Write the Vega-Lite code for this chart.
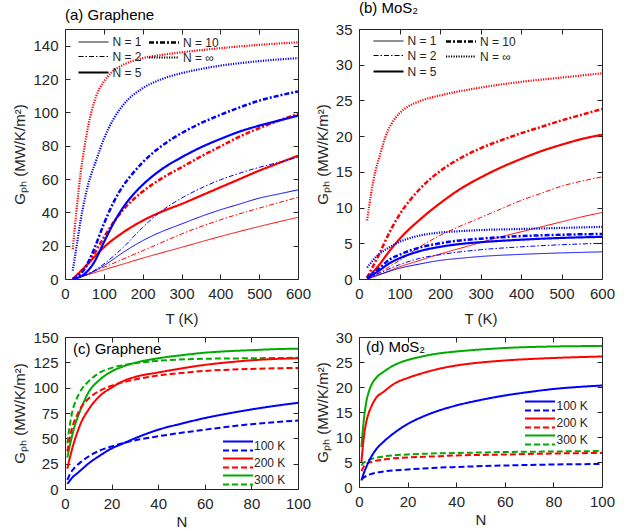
{
  "$schema": "https://vega.github.io/schema/vega-lite/v6.json",
  "background": "white",
  "padding": {"left": 12, "top": 0, "right": 5, "bottom": 0},
  "config": {
    "font": "Liberation Sans",
    "view": {"stroke": "#262626", "strokeWidth": 1},
    "axis": {"domain": false, "grid": false, "tickSize": -5, "tickColor": "#262626", "labelColor": "#262626", "labelFontSize": 15, "labelFont": "Liberation Sans", "titleFont": "Liberation Sans", "titleFontSize": 15, "titleFontWeight": "normal", "titleColor": "#262626", "labelPadding": 12, "labelFlush": false, "titlePadding": 6},
    "title": {"font": "Liberation Sans", "fontSize": 15, "fontWeight": "normal", "anchor": "start", "color": "#000000", "frame": "group"},
    "legend": {"labelFont": "Liberation Sans", "labelColor": "#262626"}
  },
  "datasets": {
    "a": [
      {"T":20,"G":0,"N":"N = 1","c":"red"},{"T":50,"G":2,"N":"N = 1","c":"red"},{"T":100,"G":5.5,"N":"N = 1","c":"red"},{"T":150,"G":9,"N":"N = 1","c":"red"},{"T":200,"G":12.5,"N":"N = 1","c":"red"},{"T":300,"G":19,"N":"N = 1","c":"red"},{"T":400,"G":25.5,"N":"N = 1","c":"red"},{"T":500,"G":31.5,"N":"N = 1","c":"red"},{"T":600,"G":37,"N":"N = 1","c":"red"},
      {"T":20,"G":0,"N":"N = 2","c":"red"},{"T":50,"G":2.5,"N":"N = 2","c":"red"},{"T":100,"G":7,"N":"N = 2","c":"red"},{"T":150,"G":12,"N":"N = 2","c":"red"},{"T":200,"G":17,"N":"N = 2","c":"red"},{"T":250,"G":22,"N":"N = 2","c":"red"},{"T":300,"G":27,"N":"N = 2","c":"red"},{"T":400,"G":35.5,"N":"N = 2","c":"red"},{"T":500,"G":42.5,"N":"N = 2","c":"red"},{"T":600,"G":49,"N":"N = 2","c":"red"},
      {"T":20,"G":0,"N":"N = 5","c":"red"},{"T":50,"G":7,"N":"N = 5","c":"red"},{"T":75,"G":13,"N":"N = 5","c":"red"},{"T":100,"G":19,"N":"N = 5","c":"red"},{"T":150,"G":28,"N":"N = 5","c":"red"},{"T":200,"G":35,"N":"N = 5","c":"red"},{"T":250,"G":40.5,"N":"N = 5","c":"red"},{"T":300,"G":45,"N":"N = 5","c":"red"},{"T":350,"G":50,"N":"N = 5","c":"red"},{"T":400,"G":55,"N":"N = 5","c":"red"},{"T":450,"G":60,"N":"N = 5","c":"red"},{"T":500,"G":65,"N":"N = 5","c":"red"},{"T":550,"G":69.5,"N":"N = 5","c":"red"},{"T":600,"G":74,"N":"N = 5","c":"red"},
      {"T":20,"G":0,"N":"N = 10","c":"red"},{"T":50,"G":6,"N":"N = 10","c":"red"},{"T":75,"G":15,"N":"N = 10","c":"red"},{"T":100,"G":25,"N":"N = 10","c":"red"},{"T":125,"G":34,"N":"N = 10","c":"red"},{"T":150,"G":41.5,"N":"N = 10","c":"red"},{"T":175,"G":47.5,"N":"N = 10","c":"red"},{"T":200,"G":52.5,"N":"N = 10","c":"red"},{"T":250,"G":60.5,"N":"N = 10","c":"red"},{"T":300,"G":67,"N":"N = 10","c":"red"},{"T":350,"G":73.5,"N":"N = 10","c":"red"},{"T":400,"G":79.5,"N":"N = 10","c":"red"},{"T":450,"G":85.5,"N":"N = 10","c":"red"},{"T":500,"G":90.5,"N":"N = 10","c":"red"},{"T":550,"G":95,"N":"N = 10","c":"red"},{"T":600,"G":99,"N":"N = 10","c":"red"},
      {"T":20,"G":18,"N":"N = ∞","c":"red"},{"T":30,"G":42,"N":"N = ∞","c":"red"},{"T":40,"G":63,"N":"N = ∞","c":"red"},{"T":50,"G":79,"N":"N = ∞","c":"red"},{"T":60,"G":92,"N":"N = ∞","c":"red"},{"T":70,"G":102,"N":"N = ∞","c":"red"},{"T":80,"G":109.5,"N":"N = ∞","c":"red"},{"T":100,"G":118.5,"N":"N = ∞","c":"red"},{"T":120,"G":124,"N":"N = ∞","c":"red"},{"T":150,"G":128.5,"N":"N = ∞","c":"red"},{"T":200,"G":132.5,"N":"N = ∞","c":"red"},{"T":250,"G":134.5,"N":"N = ∞","c":"red"},{"T":300,"G":136,"N":"N = ∞","c":"red"},{"T":400,"G":138.5,"N":"N = ∞","c":"red"},{"T":500,"G":140.5,"N":"N = ∞","c":"red"},{"T":600,"G":142,"N":"N = ∞","c":"red"},
      {"T":20,"G":0,"N":"N = 1","c":"blue"},{"T":50,"G":2,"N":"N = 1","c":"blue"},{"T":100,"G":8,"N":"N = 1","c":"blue"},{"T":150,"G":16,"N":"N = 1","c":"blue"},{"T":200,"G":23,"N":"N = 1","c":"blue"},{"T":250,"G":28.5,"N":"N = 1","c":"blue"},{"T":300,"G":33,"N":"N = 1","c":"blue"},{"T":350,"G":37.5,"N":"N = 1","c":"blue"},{"T":400,"G":41.5,"N":"N = 1","c":"blue"},{"T":450,"G":45,"N":"N = 1","c":"blue"},{"T":500,"G":48.5,"N":"N = 1","c":"blue"},{"T":550,"G":51,"N":"N = 1","c":"blue"},{"T":600,"G":53.5,"N":"N = 1","c":"blue"},
      {"T":20,"G":0,"N":"N = 2","c":"blue"},{"T":50,"G":2,"N":"N = 2","c":"blue"},{"T":100,"G":9,"N":"N = 2","c":"blue"},{"T":150,"G":19,"N":"N = 2","c":"blue"},{"T":200,"G":31,"N":"N = 2","c":"blue"},{"T":250,"G":41,"N":"N = 2","c":"blue"},{"T":300,"G":48.5,"N":"N = 2","c":"blue"},{"T":350,"G":54.5,"N":"N = 2","c":"blue"},{"T":400,"G":59.5,"N":"N = 2","c":"blue"},{"T":450,"G":63.5,"N":"N = 2","c":"blue"},{"T":500,"G":67,"N":"N = 2","c":"blue"},{"T":550,"G":70,"N":"N = 2","c":"blue"},{"T":600,"G":73,"N":"N = 2","c":"blue"},
      {"T":20,"G":0,"N":"N = 5","c":"blue"},{"T":50,"G":3,"N":"N = 5","c":"blue"},{"T":75,"G":10,"N":"N = 5","c":"blue"},{"T":100,"G":22,"N":"N = 5","c":"blue"},{"T":125,"G":33.5,"N":"N = 5","c":"blue"},{"T":150,"G":43,"N":"N = 5","c":"blue"},{"T":175,"G":50.5,"N":"N = 5","c":"blue"},{"T":200,"G":56.5,"N":"N = 5","c":"blue"},{"T":250,"G":66,"N":"N = 5","c":"blue"},{"T":300,"G":73,"N":"N = 5","c":"blue"},{"T":350,"G":79,"N":"N = 5","c":"blue"},{"T":400,"G":84,"N":"N = 5","c":"blue"},{"T":450,"G":88.5,"N":"N = 5","c":"blue"},{"T":500,"G":92,"N":"N = 5","c":"blue"},{"T":550,"G":95,"N":"N = 5","c":"blue"},{"T":600,"G":98,"N":"N = 5","c":"blue"},
      {"T":20,"G":0,"N":"N = 10","c":"blue"},{"T":50,"G":6,"N":"N = 10","c":"blue"},{"T":75,"G":18,"N":"N = 10","c":"blue"},{"T":100,"G":33,"N":"N = 10","c":"blue"},{"T":125,"G":46,"N":"N = 10","c":"blue"},{"T":150,"G":56,"N":"N = 10","c":"blue"},{"T":175,"G":63.5,"N":"N = 10","c":"blue"},{"T":200,"G":70,"N":"N = 10","c":"blue"},{"T":250,"G":80,"N":"N = 10","c":"blue"},{"T":300,"G":87.5,"N":"N = 10","c":"blue"},{"T":350,"G":93.5,"N":"N = 10","c":"blue"},{"T":400,"G":98.5,"N":"N = 10","c":"blue"},{"T":450,"G":103,"N":"N = 10","c":"blue"},{"T":500,"G":107,"N":"N = 10","c":"blue"},{"T":550,"G":110,"N":"N = 10","c":"blue"},{"T":600,"G":112.5,"N":"N = 10","c":"blue"},
      {"T":20,"G":5,"N":"N = ∞","c":"blue"},{"T":30,"G":20,"N":"N = ∞","c":"blue"},{"T":40,"G":35,"N":"N = ∞","c":"blue"},{"T":50,"G":47,"N":"N = ∞","c":"blue"},{"T":60,"G":57,"N":"N = ∞","c":"blue"},{"T":80,"G":71,"N":"N = ∞","c":"blue"},{"T":100,"G":84,"N":"N = ∞","c":"blue"},{"T":125,"G":96,"N":"N = ∞","c":"blue"},{"T":150,"G":104.5,"N":"N = ∞","c":"blue"},{"T":200,"G":114.5,"N":"N = ∞","c":"blue"},{"T":250,"G":120,"N":"N = ∞","c":"blue"},{"T":300,"G":123.5,"N":"N = ∞","c":"blue"},{"T":350,"G":126,"N":"N = ∞","c":"blue"},{"T":400,"G":128,"N":"N = ∞","c":"blue"},{"T":450,"G":129.5,"N":"N = ∞","c":"blue"},{"T":500,"G":130.7,"N":"N = ∞","c":"blue"},{"T":550,"G":131.7,"N":"N = ∞","c":"blue"},{"T":600,"G":132.5,"N":"N = ∞","c":"blue"}
    ],
    "b": [
      {"T":20,"G":0,"N":"N = 1","c":"red"},{"T":50,"G":0.6,"N":"N = 1","c":"red"},{"T":100,"G":1.7,"N":"N = 1","c":"red"},{"T":150,"G":2.6,"N":"N = 1","c":"red"},{"T":200,"G":3.5,"N":"N = 1","c":"red"},{"T":250,"G":4.3,"N":"N = 1","c":"red"},{"T":300,"G":5.1,"N":"N = 1","c":"red"},{"T":350,"G":5.9,"N":"N = 1","c":"red"},{"T":400,"G":6.6,"N":"N = 1","c":"red"},{"T":450,"G":7.3,"N":"N = 1","c":"red"},{"T":500,"G":8,"N":"N = 1","c":"red"},{"T":550,"G":8.7,"N":"N = 1","c":"red"},{"T":600,"G":9.3,"N":"N = 1","c":"red"},
      {"T":20,"G":0,"N":"N = 2","c":"red"},{"T":50,"G":0.9,"N":"N = 2","c":"red"},{"T":100,"G":2.6,"N":"N = 2","c":"red"},{"T":150,"G":4.5,"N":"N = 2","c":"red"},{"T":200,"G":6.1,"N":"N = 2","c":"red"},{"T":250,"G":7.4,"N":"N = 2","c":"red"},{"T":300,"G":8.6,"N":"N = 2","c":"red"},{"T":350,"G":9.8,"N":"N = 2","c":"red"},{"T":400,"G":11,"N":"N = 2","c":"red"},{"T":450,"G":12,"N":"N = 2","c":"red"},{"T":500,"G":13,"N":"N = 2","c":"red"},{"T":550,"G":13.7,"N":"N = 2","c":"red"},{"T":600,"G":14.3,"N":"N = 2","c":"red"},
      {"T":20,"G":0.1,"N":"N = 5","c":"red"},{"T":50,"G":2,"N":"N = 5","c":"red"},{"T":75,"G":3.9,"N":"N = 5","c":"red"},{"T":100,"G":5.6,"N":"N = 5","c":"red"},{"T":150,"G":8.3,"N":"N = 5","c":"red"},{"T":200,"G":10.6,"N":"N = 5","c":"red"},{"T":250,"G":12.6,"N":"N = 5","c":"red"},{"T":300,"G":14.2,"N":"N = 5","c":"red"},{"T":350,"G":15.6,"N":"N = 5","c":"red"},{"T":400,"G":16.8,"N":"N = 5","c":"red"},{"T":450,"G":17.9,"N":"N = 5","c":"red"},{"T":500,"G":18.8,"N":"N = 5","c":"red"},{"T":550,"G":19.6,"N":"N = 5","c":"red"},{"T":600,"G":20.2,"N":"N = 5","c":"red"},
      {"T":20,"G":0.2,"N":"N = 10","c":"red"},{"T":50,"G":3.5,"N":"N = 10","c":"red"},{"T":75,"G":6.5,"N":"N = 10","c":"red"},{"T":100,"G":9,"N":"N = 10","c":"red"},{"T":150,"G":12.6,"N":"N = 10","c":"red"},{"T":200,"G":15.1,"N":"N = 10","c":"red"},{"T":250,"G":16.9,"N":"N = 10","c":"red"},{"T":300,"G":18.3,"N":"N = 10","c":"red"},{"T":350,"G":19.4,"N":"N = 10","c":"red"},{"T":400,"G":20.4,"N":"N = 10","c":"red"},{"T":450,"G":21.3,"N":"N = 10","c":"red"},{"T":500,"G":22.2,"N":"N = 10","c":"red"},{"T":550,"G":23,"N":"N = 10","c":"red"},{"T":600,"G":23.8,"N":"N = 10","c":"red"},
      {"T":20,"G":8.2,"N":"N = ∞","c":"red"},{"T":30,"G":12,"N":"N = ∞","c":"red"},{"T":40,"G":15,"N":"N = ∞","c":"red"},{"T":50,"G":17,"N":"N = ∞","c":"red"},{"T":60,"G":19,"N":"N = ∞","c":"red"},{"T":70,"G":20.6,"N":"N = ∞","c":"red"},{"T":80,"G":21.7,"N":"N = ∞","c":"red"},{"T":100,"G":23.2,"N":"N = ∞","c":"red"},{"T":120,"G":24.1,"N":"N = ∞","c":"red"},{"T":150,"G":24.9,"N":"N = ∞","c":"red"},{"T":200,"G":25.7,"N":"N = ∞","c":"red"},{"T":250,"G":26.3,"N":"N = ∞","c":"red"},{"T":300,"G":26.8,"N":"N = ∞","c":"red"},{"T":400,"G":27.6,"N":"N = ∞","c":"red"},{"T":500,"G":28.2,"N":"N = ∞","c":"red"},{"T":600,"G":28.8,"N":"N = ∞","c":"red"},
      {"T":20,"G":0,"N":"N = 1","c":"blue"},{"T":50,"G":0.6,"N":"N = 1","c":"blue"},{"T":100,"G":1.5,"N":"N = 1","c":"blue"},{"T":150,"G":2.1,"N":"N = 1","c":"blue"},{"T":200,"G":2.6,"N":"N = 1","c":"blue"},{"T":250,"G":2.9,"N":"N = 1","c":"blue"},{"T":300,"G":3.15,"N":"N = 1","c":"blue"},{"T":400,"G":3.45,"N":"N = 1","c":"blue"},{"T":500,"G":3.65,"N":"N = 1","c":"blue"},{"T":600,"G":3.8,"N":"N = 1","c":"blue"},
      {"T":20,"G":0,"N":"N = 2","c":"blue"},{"T":50,"G":0.8,"N":"N = 2","c":"blue"},{"T":100,"G":2,"N":"N = 2","c":"blue"},{"T":150,"G":2.9,"N":"N = 2","c":"blue"},{"T":200,"G":3.4,"N":"N = 2","c":"blue"},{"T":250,"G":3.8,"N":"N = 2","c":"blue"},{"T":300,"G":4.1,"N":"N = 2","c":"blue"},{"T":400,"G":4.5,"N":"N = 2","c":"blue"},{"T":500,"G":4.8,"N":"N = 2","c":"blue"},{"T":600,"G":5,"N":"N = 2","c":"blue"},
      {"T":20,"G":0.1,"N":"N = 5","c":"blue"},{"T":50,"G":1.2,"N":"N = 5","c":"blue"},{"T":75,"G":2.2,"N":"N = 5","c":"blue"},{"T":100,"G":2.9,"N":"N = 5","c":"blue"},{"T":150,"G":3.9,"N":"N = 5","c":"blue"},{"T":200,"G":4.5,"N":"N = 5","c":"blue"},{"T":250,"G":4.9,"N":"N = 5","c":"blue"},{"T":300,"G":5.15,"N":"N = 5","c":"blue"},{"T":400,"G":5.5,"N":"N = 5","c":"blue"},{"T":500,"G":5.75,"N":"N = 5","c":"blue"},{"T":600,"G":5.9,"N":"N = 5","c":"blue"},
      {"T":20,"G":0.2,"N":"N = 10","c":"blue"},{"T":50,"G":1.5,"N":"N = 10","c":"blue"},{"T":75,"G":2.7,"N":"N = 10","c":"blue"},{"T":100,"G":3.4,"N":"N = 10","c":"blue"},{"T":150,"G":4.4,"N":"N = 10","c":"blue"},{"T":200,"G":5,"N":"N = 10","c":"blue"},{"T":250,"G":5.4,"N":"N = 10","c":"blue"},{"T":300,"G":5.65,"N":"N = 10","c":"blue"},{"T":400,"G":6,"N":"N = 10","c":"blue"},{"T":500,"G":6.2,"N":"N = 10","c":"blue"},{"T":600,"G":6.3,"N":"N = 10","c":"blue"},
      {"T":20,"G":1.6,"N":"N = ∞","c":"blue"},{"T":30,"G":2.3,"N":"N = ∞","c":"blue"},{"T":40,"G":3,"N":"N = ∞","c":"blue"},{"T":50,"G":3.5,"N":"N = ∞","c":"blue"},{"T":60,"G":3.9,"N":"N = ∞","c":"blue"},{"T":80,"G":4.6,"N":"N = ∞","c":"blue"},{"T":100,"G":5.2,"N":"N = ∞","c":"blue"},{"T":130,"G":5.8,"N":"N = ∞","c":"blue"},{"T":160,"G":6.2,"N":"N = ∞","c":"blue"},{"T":200,"G":6.5,"N":"N = ∞","c":"blue"},{"T":250,"G":6.7,"N":"N = ∞","c":"blue"},{"T":300,"G":6.85,"N":"N = ∞","c":"blue"},{"T":400,"G":7,"N":"N = ∞","c":"blue"},{"T":500,"G":7.15,"N":"N = ∞","c":"blue"},{"T":600,"G":7.3,"N":"N = ∞","c":"blue"}
    ],
    "c": [
      {"N":1,"G":31,"T":"300 K","s":"solid"},{"N":2,"G":42,"T":"300 K","s":"solid"},{"N":3,"G":52,"T":"300 K","s":"solid"},{"N":4,"G":61,"T":"300 K","s":"solid"},{"N":5,"G":68,"T":"300 K","s":"solid"},{"N":7,"G":80,"T":"300 K","s":"solid"},{"N":10,"G":95,"T":"300 K","s":"solid"},{"N":15,"G":108,"T":"300 K","s":"solid"},{"N":20,"G":116,"T":"300 K","s":"solid"},{"N":25,"G":121,"T":"300 K","s":"solid"},{"N":30,"G":124.5,"T":"300 K","s":"solid"},{"N":40,"G":129,"T":"300 K","s":"solid"},{"N":50,"G":132,"T":"300 K","s":"solid"},{"N":60,"G":134.5,"T":"300 K","s":"solid"},{"N":70,"G":136,"T":"300 K","s":"solid"},{"N":80,"G":137,"T":"300 K","s":"solid"},{"N":90,"G":138,"T":"300 K","s":"solid"},{"N":100,"G":138.5,"T":"300 K","s":"solid"},
      {"N":1,"G":45,"T":"300 K","s":"dashed"},{"N":2,"G":62,"T":"300 K","s":"dashed"},{"N":3,"G":75,"T":"300 K","s":"dashed"},{"N":5,"G":89,"T":"300 K","s":"dashed"},{"N":7,"G":98,"T":"300 K","s":"dashed"},{"N":10,"G":106,"T":"300 K","s":"dashed"},{"N":15,"G":115,"T":"300 K","s":"dashed"},{"N":20,"G":119.5,"T":"300 K","s":"dashed"},{"N":27,"G":123,"T":"300 K","s":"dashed"},{"N":40,"G":126.5,"T":"300 K","s":"dashed"},{"N":60,"G":128.5,"T":"300 K","s":"dashed"},{"N":80,"G":129,"T":"300 K","s":"dashed"},{"N":100,"G":129.5,"T":"300 K","s":"dashed"},
      {"N":1,"G":20,"T":"200 K","s":"solid"},{"N":2,"G":30,"T":"200 K","s":"solid"},{"N":3,"G":39,"T":"200 K","s":"solid"},{"N":4,"G":47,"T":"200 K","s":"solid"},{"N":5,"G":54,"T":"200 K","s":"solid"},{"N":7,"G":66,"T":"200 K","s":"solid"},{"N":10,"G":78,"T":"200 K","s":"solid"},{"N":15,"G":92,"T":"200 K","s":"solid"},{"N":20,"G":100,"T":"200 K","s":"solid"},{"N":25,"G":106.5,"T":"200 K","s":"solid"},{"N":30,"G":110.5,"T":"200 K","s":"solid"},{"N":40,"G":115,"T":"200 K","s":"solid"},{"N":50,"G":119,"T":"200 K","s":"solid"},{"N":60,"G":122.5,"T":"200 K","s":"solid"},{"N":70,"G":125,"T":"200 K","s":"solid"},{"N":80,"G":127,"T":"200 K","s":"solid"},{"N":90,"G":128.3,"T":"200 K","s":"solid"},{"N":100,"G":129,"T":"200 K","s":"solid"},
      {"N":1,"G":37,"T":"200 K","s":"dashed"},{"N":2,"G":50,"T":"200 K","s":"dashed"},{"N":3,"G":60,"T":"200 K","s":"dashed"},{"N":5,"G":72,"T":"200 K","s":"dashed"},{"N":7,"G":81,"T":"200 K","s":"dashed"},{"N":10,"G":89,"T":"200 K","s":"dashed"},{"N":15,"G":97,"T":"200 K","s":"dashed"},{"N":20,"G":102,"T":"200 K","s":"dashed"},{"N":30,"G":108,"T":"200 K","s":"dashed"},{"N":40,"G":112,"T":"200 K","s":"dashed"},{"N":50,"G":114.5,"T":"200 K","s":"dashed"},{"N":60,"G":116.5,"T":"200 K","s":"dashed"},{"N":80,"G":118.5,"T":"200 K","s":"dashed"},{"N":100,"G":119.5,"T":"200 K","s":"dashed"},
      {"N":1,"G":5,"T":"100 K","s":"solid"},{"N":2,"G":8,"T":"100 K","s":"solid"},{"N":3,"G":11,"T":"100 K","s":"solid"},{"N":5,"G":15,"T":"100 K","s":"solid"},{"N":7,"G":19,"T":"100 K","s":"solid"},{"N":10,"G":25,"T":"100 K","s":"solid"},{"N":15,"G":33,"T":"100 K","s":"solid"},{"N":20,"G":40,"T":"100 K","s":"solid"},{"N":25,"G":45,"T":"100 K","s":"solid"},{"N":30,"G":50,"T":"100 K","s":"solid"},{"N":40,"G":58.5,"T":"100 K","s":"solid"},{"N":50,"G":64.5,"T":"100 K","s":"solid"},{"N":60,"G":70,"T":"100 K","s":"solid"},{"N":70,"G":74.5,"T":"100 K","s":"solid"},{"N":80,"G":78.5,"T":"100 K","s":"solid"},{"N":90,"G":82,"T":"100 K","s":"solid"},{"N":100,"G":85,"T":"100 K","s":"solid"},
      {"N":1,"G":9,"T":"100 K","s":"dashed"},{"N":2,"G":14,"T":"100 K","s":"dashed"},{"N":3,"G":18,"T":"100 K","s":"dashed"},{"N":5,"G":23,"T":"100 K","s":"dashed"},{"N":7,"G":27,"T":"100 K","s":"dashed"},{"N":10,"G":32,"T":"100 K","s":"dashed"},{"N":15,"G":38,"T":"100 K","s":"dashed"},{"N":20,"G":42,"T":"100 K","s":"dashed"},{"N":28,"G":47,"T":"100 K","s":"dashed"},{"N":40,"G":52,"T":"100 K","s":"dashed"},{"N":50,"G":55.5,"T":"100 K","s":"dashed"},{"N":60,"G":58.5,"T":"100 K","s":"dashed"},{"N":70,"G":61.5,"T":"100 K","s":"dashed"},{"N":80,"G":64,"T":"100 K","s":"dashed"},{"N":90,"G":66,"T":"100 K","s":"dashed"},{"N":100,"G":67.5,"T":"100 K","s":"dashed"}
    ],
    "d": [
      {"N":1,"G":8,"T":"300 K","s":"solid"},{"N":2,"G":13.5,"T":"300 K","s":"solid"},{"N":3,"G":17,"T":"300 K","s":"solid"},{"N":4,"G":19,"T":"300 K","s":"solid"},{"N":5,"G":20.3,"T":"300 K","s":"solid"},{"N":7,"G":21.8,"T":"300 K","s":"solid"},{"N":10,"G":23,"T":"300 K","s":"solid"},{"N":15,"G":24.5,"T":"300 K","s":"solid"},{"N":20,"G":25.4,"T":"300 K","s":"solid"},{"N":25,"G":26,"T":"300 K","s":"solid"},{"N":30,"G":26.5,"T":"300 K","s":"solid"},{"N":40,"G":27.1,"T":"300 K","s":"solid"},{"N":50,"G":27.5,"T":"300 K","s":"solid"},{"N":60,"G":27.8,"T":"300 K","s":"solid"},{"N":80,"G":28.1,"T":"300 K","s":"solid"},{"N":100,"G":28.2,"T":"300 K","s":"solid"},
      {"N":1,"G":4.3,"T":"300 K","s":"dashed"},{"N":2,"G":4.9,"T":"300 K","s":"dashed"},{"N":3,"G":5.2,"T":"300 K","s":"dashed"},{"N":5,"G":5.6,"T":"300 K","s":"dashed"},{"N":10,"G":6.1,"T":"300 K","s":"dashed"},{"N":20,"G":6.5,"T":"300 K","s":"dashed"},{"N":30,"G":6.7,"T":"300 K","s":"dashed"},{"N":40,"G":6.8,"T":"300 K","s":"dashed"},{"N":60,"G":7,"T":"300 K","s":"dashed"},{"N":80,"G":7.1,"T":"300 K","s":"dashed"},{"N":100,"G":7.2,"T":"300 K","s":"dashed"},
      {"N":1,"G":5,"T":"200 K","s":"solid"},{"N":2,"G":10,"T":"200 K","s":"solid"},{"N":3,"G":13,"T":"200 K","s":"solid"},{"N":4,"G":14.8,"T":"200 K","s":"solid"},{"N":5,"G":16,"T":"200 K","s":"solid"},{"N":7,"G":17.8,"T":"200 K","s":"solid"},{"N":10,"G":19,"T":"200 K","s":"solid"},{"N":15,"G":20.8,"T":"200 K","s":"solid"},{"N":20,"G":21.8,"T":"200 K","s":"solid"},{"N":25,"G":22.6,"T":"200 K","s":"solid"},{"N":30,"G":23.3,"T":"200 K","s":"solid"},{"N":40,"G":24.3,"T":"200 K","s":"solid"},{"N":50,"G":24.9,"T":"200 K","s":"solid"},{"N":60,"G":25.3,"T":"200 K","s":"solid"},{"N":80,"G":25.8,"T":"200 K","s":"solid"},{"N":100,"G":26.1,"T":"200 K","s":"solid"},
      {"N":1,"G":3.2,"T":"200 K","s":"dashed"},{"N":2,"G":4.1,"T":"200 K","s":"dashed"},{"N":3,"G":4.6,"T":"200 K","s":"dashed"},{"N":5,"G":5,"T":"200 K","s":"dashed"},{"N":10,"G":5.5,"T":"200 K","s":"dashed"},{"N":20,"G":5.9,"T":"200 K","s":"dashed"},{"N":30,"G":6.1,"T":"200 K","s":"dashed"},{"N":40,"G":6.3,"T":"200 K","s":"dashed"},{"N":60,"G":6.5,"T":"200 K","s":"dashed"},{"N":80,"G":6.7,"T":"200 K","s":"dashed"},{"N":100,"G":6.8,"T":"200 K","s":"dashed"},
      {"N":1,"G":1.3,"T":"100 K","s":"solid"},{"N":2,"G":2.8,"T":"100 K","s":"solid"},{"N":3,"G":4,"T":"100 K","s":"solid"},{"N":5,"G":6,"T":"100 K","s":"solid"},{"N":7,"G":7.5,"T":"100 K","s":"solid"},{"N":10,"G":9,"T":"100 K","s":"solid"},{"N":15,"G":11,"T":"100 K","s":"solid"},{"N":20,"G":12.6,"T":"100 K","s":"solid"},{"N":25,"G":13.8,"T":"100 K","s":"solid"},{"N":30,"G":14.8,"T":"100 K","s":"solid"},{"N":40,"G":16.3,"T":"100 K","s":"solid"},{"N":50,"G":17.4,"T":"100 K","s":"solid"},{"N":60,"G":18.3,"T":"100 K","s":"solid"},{"N":70,"G":19,"T":"100 K","s":"solid"},{"N":80,"G":19.6,"T":"100 K","s":"solid"},{"N":90,"G":20,"T":"100 K","s":"solid"},{"N":100,"G":20.3,"T":"100 K","s":"solid"},
      {"N":1,"G":1.5,"T":"100 K","s":"dashed"},{"N":2,"G":1.9,"T":"100 K","s":"dashed"},{"N":3,"G":2.2,"T":"100 K","s":"dashed"},{"N":5,"G":2.6,"T":"100 K","s":"dashed"},{"N":10,"G":3.1,"T":"100 K","s":"dashed"},{"N":20,"G":3.5,"T":"100 K","s":"dashed"},{"N":30,"G":3.8,"T":"100 K","s":"dashed"},{"N":40,"G":4,"T":"100 K","s":"dashed"},{"N":60,"G":4.3,"T":"100 K","s":"dashed"},{"N":80,"G":4.5,"T":"100 K","s":"dashed"},{"N":100,"G":4.6,"T":"100 K","s":"dashed"}
    ]
  },
  "columns": 2,
  "spacing": {"row": 2, "column": 2},
  "concat": [
    {
      "width": 233, "height": 250,
      "data": {"name": "a"},
      "title": {"text": "(a) Graphene", "offset": 6},
      "layer": [
        {
          "mark": {"type": "line", "clip": true, "interpolate": "monotone"},
          "encoding": {
            "x": {"field": "T", "type": "quantitative", "scale": {"domain": [0, 600], "nice": false}, "axis": {"title": "T (K)", "values": [0, 100, 200, 300, 400, 500, 600], "titlePadding": 10}},
            "y": {"field": "G", "type": "quantitative", "scale": {"domain": [0, 150], "nice": false}, "axis": {"title": "Gₚₕ (MW/K/m²)", "values": [0, 20, 40, 60, 80, 100, 120, 140], "titlePadding": 5}},
            "color": {"field": "c", "type": "nominal", "scale": {"domain": ["red", "blue"], "range": ["#ff0000", "#0000ff"]}, "legend": null},
            "strokeDash": {"field": "N", "type": "nominal", "scale": {"domain": ["N = 1", "N = 2", "N = 5", "N = 10", "N = ∞"], "range": [[1, 0], [5, 2, 1.5, 2], [1, 0], [5, 2, 2, 2], [1.2, 1.3]]},
              "legend": {"title": null, "orient": "none", "legendX": 19.5, "legendY": 4.5, "columns": 2, "symbolType": "M-2,0H2", "symbolSize": 225, "symbolStrokeColor": "black", "labelFontSize": 12, "columnPadding": 1.5, "rowPadding": 0, "padding": 0, "labelOffset": 10}},
            "strokeWidth": {"field": "N", "type": "nominal", "scale": {"type": "ordinal", "domain": ["N = 1", "N = 2", "N = 5", "N = 10", "N = ∞"], "range": [1, 1, 2.2, 2.5, 2.2]},
              "legend": {"title": null, "orient": "none", "legendX": 19.5, "legendY": 4.5, "columns": 2, "symbolType": "M-2,0H2", "symbolSize": 225, "symbolStrokeColor": "black", "labelFontSize": 12, "columnPadding": 1.5, "rowPadding": 0, "padding": 0, "labelOffset": 10}}
          }
        },
        {
          "mark": {"type": "line", "opacity": 0},
          "encoding": {
            "x": {"field": "T", "type": "quantitative", "scale": {"domain": [0, 600], "nice": false}, "axis": {"orient": "top", "labels": false, "title": null, "values": [0, 100, 200, 300, 400, 500, 600]}},
            "y": {"field": "G", "type": "quantitative", "scale": {"domain": [0, 150], "nice": false}, "axis": {"orient": "right", "labels": false, "title": null, "values": [0, 20, 40, 60, 80, 100, 120, 140]}}
          }
        }
      ],
      "resolve": {"axis": {"x": "independent", "y": "independent"}}
    },
    {
      "width": 243, "height": 250,
      "data": {"name": "b"},
      "title": {"text": "(b) MoS₂", "offset": 6},
      "layer": [
        {
          "mark": {"type": "line", "clip": true, "interpolate": "monotone"},
          "encoding": {
            "x": {"field": "T", "type": "quantitative", "scale": {"domain": [0, 600], "nice": false}, "axis": {"title": "T (K)", "values": [0, 100, 200, 300, 400, 500, 600], "titlePadding": 10}},
            "y": {"field": "G", "type": "quantitative", "scale": {"domain": [0, 35], "nice": false}, "axis": {"title": "Gₚₕ (MW/K/m²)", "values": [0, 5, 10, 15, 20, 25, 30, 35], "titlePadding": 5}},
            "color": {"field": "c", "type": "nominal", "scale": {"domain": ["red", "blue"], "range": ["#ff0000", "#0000ff"]}, "legend": null},
            "strokeDash": {"field": "N", "type": "nominal", "scale": {"domain": ["N = 1", "N = 2", "N = 5", "N = 10", "N = ∞"], "range": [[1, 0], [5, 2, 1.5, 2], [1, 0], [5, 2, 2, 2], [1.2, 1.3]]},
              "legend": {"title": null, "orient": "none", "legendX": 20.5, "legendY": 3.5, "columns": 2, "symbolType": "M-2,0H2", "symbolSize": 225, "symbolStrokeColor": "black", "labelFontSize": 12, "columnPadding": 3.5, "rowPadding": 0, "padding": 0, "labelOffset": 10}},
            "strokeWidth": {"field": "N", "type": "nominal", "scale": {"type": "ordinal", "domain": ["N = 1", "N = 2", "N = 5", "N = 10", "N = ∞"], "range": [1, 1, 2.2, 2.5, 2.2]},
              "legend": {"title": null, "orient": "none", "legendX": 20.5, "legendY": 3.5, "columns": 2, "symbolType": "M-2,0H2", "symbolSize": 225, "symbolStrokeColor": "black", "labelFontSize": 12, "columnPadding": 3.5, "rowPadding": 0, "padding": 0, "labelOffset": 10}}
          }
        },
        {
          "mark": {"type": "line", "opacity": 0},
          "encoding": {
            "x": {"field": "T", "type": "quantitative", "scale": {"domain": [0, 600], "nice": false}, "axis": {"orient": "top", "labels": false, "title": null, "values": [0, 100, 200, 300, 400, 500, 600]}},
            "y": {"field": "G", "type": "quantitative", "scale": {"domain": [0, 35], "nice": false}, "axis": {"orient": "right", "labels": false, "title": null, "values": [0, 5, 10, 15, 20, 25, 30, 35]}}
          }
        }
      ],
      "resolve": {"axis": {"x": "independent", "y": "independent"}}
    },
    {
      "width": 233, "height": 152,
      "data": {"name": "c"},
      "title": {"text": "(c) Graphene", "offset": -27, "dx": 8},
      "layer": [
        {
          "mark": {"type": "line", "clip": true, "strokeWidth": 2, "interpolate": "monotone"},
          "encoding": {
            "x": {"field": "N", "type": "quantitative", "scale": {"domain": [0, 100], "nice": false}, "axis": {"title": "N", "values": [0, 20, 40, 60, 80, 100], "titlePadding": 3}},
            "y": {"field": "G", "type": "quantitative", "scale": {"domain": [0, 150], "nice": false}, "axis": {"title": "Gₚₕ (MW/K/m²)", "values": [0, 25, 50, 75, 100, 125, 150], "titlePadding": 5}},
            "color": {"field": "T", "type": "nominal", "scale": {"domain": ["100 K", "200 K", "300 K"], "range": ["#0000ff", "#ff0000", "#00aa00"]},
              "legend": {"title": null, "orient": "none", "legendX": 167, "legendY": 103, "symbolType": "M-3,-0.9H3M-3,0.9H-1.8M-1.2,0.9H0M0.6,0.9H1.8M2.4,0.9H3", "symbolSize": 100, "symbolStrokeWidth": 2, "symbolFillColor": "transparent", "labelFontSize": 12, "rowPadding": -1, "padding": 0, "labelOffset": 10}},
            "strokeDash": {"field": "s", "type": "nominal", "scale": {"domain": ["solid", "dashed"], "range": [[1, 0], [6, 3]]}, "legend": null}
          }
        },
        {
          "mark": {"type": "line", "opacity": 0},
          "encoding": {
            "x": {"field": "N", "type": "quantitative", "scale": {"domain": [0, 100], "nice": false}, "axis": {"orient": "top", "labels": false, "title": null, "values": [0, 20, 40, 60, 80, 100]}},
            "y": {"field": "G", "type": "quantitative", "scale": {"domain": [0, 150], "nice": false}, "axis": {"orient": "right", "labels": false, "title": null, "values": [0, 25, 50, 75, 100, 125, 150]}}
          }
        }
      ],
      "resolve": {"axis": {"x": "independent", "y": "independent"}}
    },
    {
      "width": 243, "height": 150,
      "data": {"name": "d"},
      "title": {"text": "(d) MoS₂", "offset": -25, "dx": 7},
      "layer": [
        {
          "mark": {"type": "line", "clip": true, "strokeWidth": 2, "interpolate": "monotone"},
          "encoding": {
            "x": {"field": "N", "type": "quantitative", "scale": {"domain": [0, 100], "nice": false}, "axis": {"title": "N", "values": [0, 20, 40, 60, 80, 100], "titlePadding": 3}},
            "y": {"field": "G", "type": "quantitative", "scale": {"domain": [0, 30], "nice": false}, "axis": {"title": "Gₚₕ (MW/K/m²)", "values": [0, 5, 10, 15, 20, 25, 30], "titlePadding": 5}},
            "color": {"field": "T", "type": "nominal", "scale": {"domain": ["100 K", "200 K", "300 K"], "range": ["#0000ff", "#ff0000", "#00aa00"]},
              "legend": {"title": null, "orient": "none", "legendX": 175, "legendY": 63, "symbolType": "M-3,-0.9H3M-3,0.9H-1.8M-1.2,0.9H0M0.6,0.9H1.8M2.4,0.9H3", "symbolSize": 100, "symbolStrokeWidth": 2, "symbolFillColor": "transparent", "labelFontSize": 12, "rowPadding": -1, "padding": 0, "labelOffset": 10.5}},
            "strokeDash": {"field": "s", "type": "nominal", "scale": {"domain": ["solid", "dashed"], "range": [[1, 0], [6, 3]]}, "legend": null}
          }
        },
        {
          "mark": {"type": "line", "opacity": 0},
          "encoding": {
            "x": {"field": "N", "type": "quantitative", "scale": {"domain": [0, 100], "nice": false}, "axis": {"orient": "top", "labels": false, "title": null, "values": [0, 20, 40, 60, 80, 100]}},
            "y": {"field": "G", "type": "quantitative", "scale": {"domain": [0, 30], "nice": false}, "axis": {"orient": "right", "labels": false, "title": null, "values": [0, 5, 10, 15, 20, 25, 30]}}
          }
        }
      ],
      "resolve": {"axis": {"x": "independent", "y": "independent"}}
    }
  ],
  "resolve": {"scale": {"color": "independent", "strokeDash": "independent", "strokeWidth": "independent"}, "legend": {"color": "independent", "strokeDash": "independent", "strokeWidth": "independent"}}
}
